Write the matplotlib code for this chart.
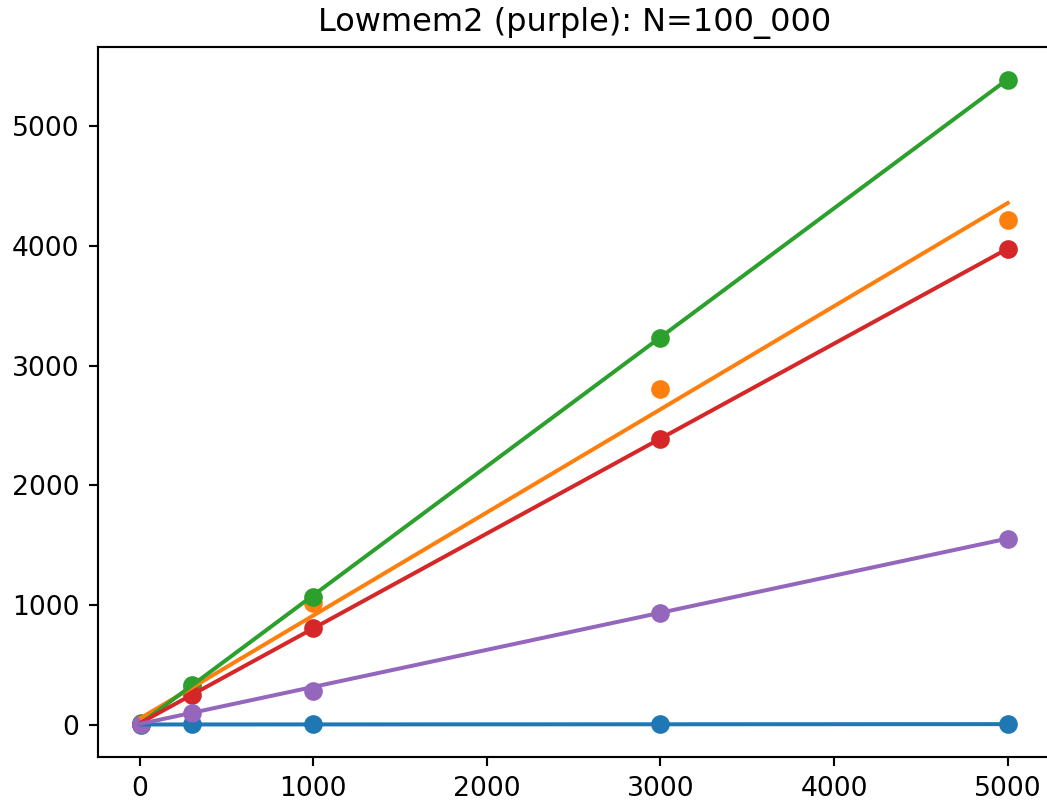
import numpy as np
import matplotlib
matplotlib.use('Agg')
import matplotlib.pyplot as plt

# Значения
x_vals = [10, 300, 1000, 3000, 5000]
series_names = ['blue', 'orange', 'green', 'red', 'purple']
y_blue = [1, 3, 5, 6, 8]
y_orange = [10, 320, 1017, 2806, 4217]
y_green = [12, 333, 1067, 3231, 5389]
y_red = [8, 250, 808, 2389, 3977]
y_purple = [3, 100, 285, 931, 1556]

# Прямые аппроксимации: значения на концах (x = 10 и x = 5000)
fit_x = [10, 5000]
fit_blue = [3, 6]
fit_orange = [60, 4358]
fit_green = [15, 5392]
fit_red = [20, 3977]
fit_purple = [10, 1556]

title = 'Lowmem2 (purple): N=100_000'


def main():
    dpi = 192
    fig = plt.figure(figsize=(1047 / dpi, 803 / dpi), dpi=dpi)
    ax = fig.add_axes([98 / 1047, 46 / 803, 953 / 1047, 710 / 803])

    all_y = [y_blue, y_orange, y_green, y_red, y_purple]
    all_fit = [fit_blue, fit_orange, fit_green, fit_red, fit_purple]
    for i, (ys, fit) in enumerate(zip(all_y, all_fit)):
        color = f'C{i}'
        ax.scatter(x_vals, ys, color=color)
        ax.plot(fit_x, fit, color=color)

    ax.set_title(title)
    fig.savefig('out.png', dpi=dpi)


if __name__ == '__main__':
    main()
